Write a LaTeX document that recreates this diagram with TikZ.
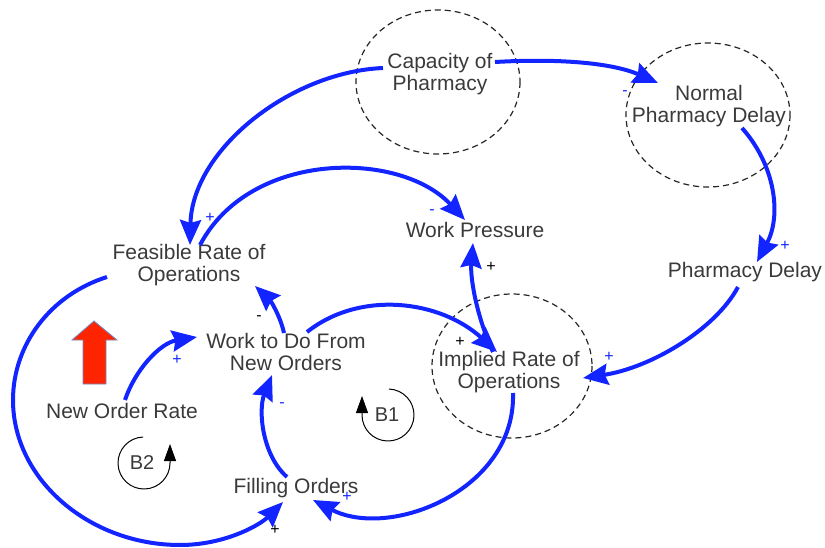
\documentclass[tikz,border=0pt]{standalone}
\usepackage{fontspec}
\setmainfont{Liberation Sans}
\usetikzlibrary{arrows.meta,calc}
\definecolor{linkblue}{RGB}{18,36,255}
\definecolor{vartext}{RGB}{58,58,58}
\definecolor{pushred}{RGB}{255,36,0}
\definecolor{pushedge}{RGB}{110,140,200}
\begin{document}
\begin{tikzpicture}[x=1pt,y=-1pt,
  var/.style={font=\fontsize{21}{22}\selectfont, text=vartext, align=center, inner sep=0pt},
  link/.style={draw=linkblue, line width=4pt, -{Stealth[length=25pt,width=21pt,inset=3pt]}},
  pol/.style={font=\fontsize{16}{16}\selectfont, inner sep=0pt},
  bluepol/.style={pol, text=linkblue},
  blackpol/.style={pol, text=black},
  halo/.style={draw=black!85, dash pattern=on 6pt off 4pt, line width=1.2pt},
  loopmark/.style={draw=black, line width=1pt, -{Triangle[length=17pt,width=12pt]}},
  looplabel/.style={font=\fontsize{20}{20}\selectfont, text=vartext, inner sep=0pt}]

\useasboundingbox (0,0) rectangle (825,548);

% dashed halos around the three auxiliary variables
\draw[halo] (438,82) ellipse [x radius=82, y radius=72];
\draw[halo] (708,115) ellipse [x radius=82, y radius=72];
\draw[halo] (512,366) ellipse [x radius=80, y radius=72];

% variables
\node[var] (cap) at (440,74)  {Capacity of\\Pharmacy};
\node[var] (npd) at (709,106) {Normal\\Pharmacy Delay};
\node[var] (wp)  at (475,230) {Work Pressure};
\node[var] (pd)  at (745,272) {Pharmacy Delay};
\node[var] (fro) at (189,265) {Feasible Rate of\\Operations};
\node[var] (wtd) at (286,352) {Work to Do From\\New Orders};
\node[var] (iro) at (509,372) {Implied Rate of\\Operations};
\node[var] (nor) at (122,411) {New Order Rate};
\node[var] (fo)  at (296,488) {Filling Orders};

% causal links
\draw[link] ($(cap)+(55,-12)$) .. controls (565,58) and (615,64) .. ($(npd)+(-51,-23)$);
\draw[link] ($(cap)+(-57,-6)$) .. controls (290,72) and (192,150) .. ($(fro)+(1,-20)$);
\draw[link] ($(fro)+(11,-20)$) .. controls (250,150) and (400,150) .. ($(wp)+(-10,-10)$);
\draw[link] ($(npd)+(33,22)$) .. controls (775,165) and (782,215) .. ($(pd)+(12,-10)$);
\draw[link] ($(pd)+(-7,15)$) .. controls (715,330) and (650,368) .. ($(iro)+(74,6)$);
\draw[link] ($(iro)+(-16,-20)$) .. controls (478,320) and (470,280) .. ($(wp)+(-2,13)$);
\draw[link] ($(wtd)+(21,-20)$) .. controls (360,290) and (440,300) .. ($(iro)+(-12,-20)$);
\draw[link] ($(iro)+(4,21)$) .. controls (516,490) and (390,540) .. ($(fo)+(17,12)$);
\draw[link] ($(fo)+(-9,-11)$) .. controls (262,455) and (258,410) .. ($(wtd)+(-14,23)$);
\draw[link] ($(wtd)+(-2,-19)$) .. controls (280,315) and (270,300) .. ($(fro)+(66,21)$);
\draw[link] ($(nor)+(3,-11)$) .. controls (135,370) and (160,343) .. ($(wtd)+(-89,-15)$);
\draw[link] ($(fro)+(-82,12)$) .. controls (50,295) and (13,345) .. (13,400)
  .. controls (13,480) and (90,545) .. (180,545)
  .. controls (225,545) and (260,525) .. ($(fo)+(-13,14)$);

% link polarities
\node[bluepol]  (p1)  at (625,93)  {-};
\node[bluepol]  (p2)  at (210,218) {+};
\node[bluepol]  (p3)  at (432,212) {-};
\node[bluepol]  (p4)  at (785,246) {+};
\node[bluepol]  (p5)  at (609,357) {+};
\node[blackpol] (p6)  at (491,267) {+};
\node[blackpol] (p7)  at (460,342) {+};
\node[bluepol]  (p8)  at (347,497) {+};
\node[bluepol]  (p9)  at (282,405) {-};
\node[blackpol] (p10) at (259,318) {-};
\node[bluepol]  (p11) at (177,360) {+};
\node[blackpol] (p12) at (275,530) {+};

% balancing loop markers: open circle ending in an upward tip
\node[looplabel] (b1) at (387,415) {B1};
\draw[loopmark] (388,415) ++(-88:26) arc[start angle=-88, end angle=180, radius=26] -- ++(0,-19);
\node[looplabel] (b2) at (142,463) {B2};
\draw[loopmark] (144,463) ++(-92:26) arc[start angle=268, end angle=0, radius=26] -- ++(0,-19);

% external push on the order rate
\draw[fill=pushred, draw=pushedge, line width=0.8pt]
  (83,384) -- (83,340) -- (72,340) -- (94,321) -- (117,340) -- (106,340) -- (106,384) -- cycle;

\end{tikzpicture}
\end{document}
